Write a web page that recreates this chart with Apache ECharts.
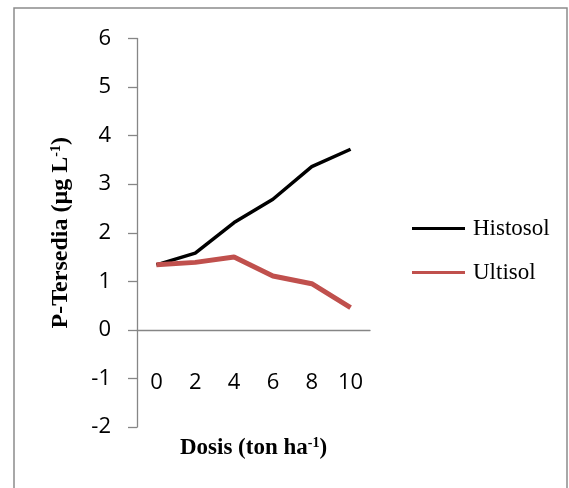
<!DOCTYPE html>
<html><head><meta charset="utf-8">
<script src="https://cdn.jsdelivr.net/npm/echarts@6/dist/echarts.min.js"></script>
<style>html,body{margin:0;padding:0;background:#fff}#chart{width:569px;height:488px}</style>
</head><body><div id="chart"></div>
<script>
// Dose levels (ton/ha) and available P for each soil
const doses = ['0', '2', '4', '6', '8', '10'];
const histosol = [1.34, 1.58, 2.21, 2.69, 3.36, 3.72];
const ultisol = [1.34, 1.39, 1.50, 1.11, 0.95, 0.46];
const yMin = -2, yMax = 6, yStep = 1;

const axisGray = '#868686';
const serif = '"Liberation Serif", "Times New Roman", serif';
const sans = '"Open Sans", sans-serif';

const chart = echarts.init(document.getElementById('chart'), null, {renderer: 'canvas'});
chart.setOption({
  backgroundColor: '#fff',
  animation: false,
  graphic: [{
    type: 'rect', silent: true,
    shape: {x: 14, y: 8, width: 553, height: 500},
    style: {fill: 'none', stroke: '#8c8c8c', lineWidth: 1.5}
  }],
  grid: {left: 137, right: 199, top: 38.5, bottom: 61, containLabel: false, outerBoundsMode: 'none'},
  legend: {
    orient: 'vertical', left: 412, top: 217, padding: 0,
    icon: 'rect', itemWidth: 53, itemHeight: 3, itemGap: 21,
    textStyle: {fontFamily: serif, fontSize: 23, color: '#000', lineHeight: 22, padding: [0, 0, 0, 3]},
    data: ['Histosol', 'Ultisol']
  },
  xAxis: {
    type: 'category', data: doses, boundaryGap: true,
    axisLine: {onZero: true, lineStyle: {color: axisGray, width: 1.3}},
    axisTick: {show: false},
    axisLabel: {fontFamily: sans, fontSize: 22, color: '#000', margin: -55},
    splitLine: {show: false},
    name: '{b|Dosis (ton ha}{s|-1}{b|)}',
    nameLocation: 'middle', nameGap: 9,
    nameTextStyle: {
      rich: {
        b: {fontFamily: serif, fontWeight: 'bold', fontSize: 23, color: '#000'},
        s: {fontFamily: serif, fontWeight: 'bold', fontSize: 14, color: '#000', padding: [0, 0, 10, 0]}
      }
    }
  },
  yAxis: {
    type: 'value', min: yMin, max: yMax, interval: yStep,
    axisLine: {show: true, onZero: false, lineStyle: {color: axisGray, width: 1.3}},
    axisTick: {show: true, length: 9, lineStyle: {color: axisGray, width: 1.3}},
    axisLabel: {fontFamily: sans, fontSize: 22, color: '#000', margin: 26},
    splitLine: {show: false},
    name: '{b|P-Tersedia (µg L}{s|-1}{b|)}',
    nameLocation: 'middle', nameGap: 64, nameRotate: 90,
    nameTextStyle: {
      rich: {
        b: {fontFamily: serif, fontWeight: 'bold', fontSize: 24, color: '#000'},
        s: {fontFamily: serif, fontWeight: 'bold', fontSize: 14, color: '#000', padding: [0, 0, 10, 0]}
      }
    }
  },
  series: [
    {
      name: 'Histosol', type: 'line', data: histosol,
      showSymbol: false, symbol: 'none',
      lineStyle: {color: '#000', width: 3.5},
      itemStyle: {color: '#000'}
    },
    {
      name: 'Ultisol', type: 'line', data: ultisol,
      showSymbol: false, symbol: 'none',
      lineStyle: {color: '#C0504D', width: 5},
      itemStyle: {color: '#C0504D'}
    }
  ]
});
</script>
</body></html>
